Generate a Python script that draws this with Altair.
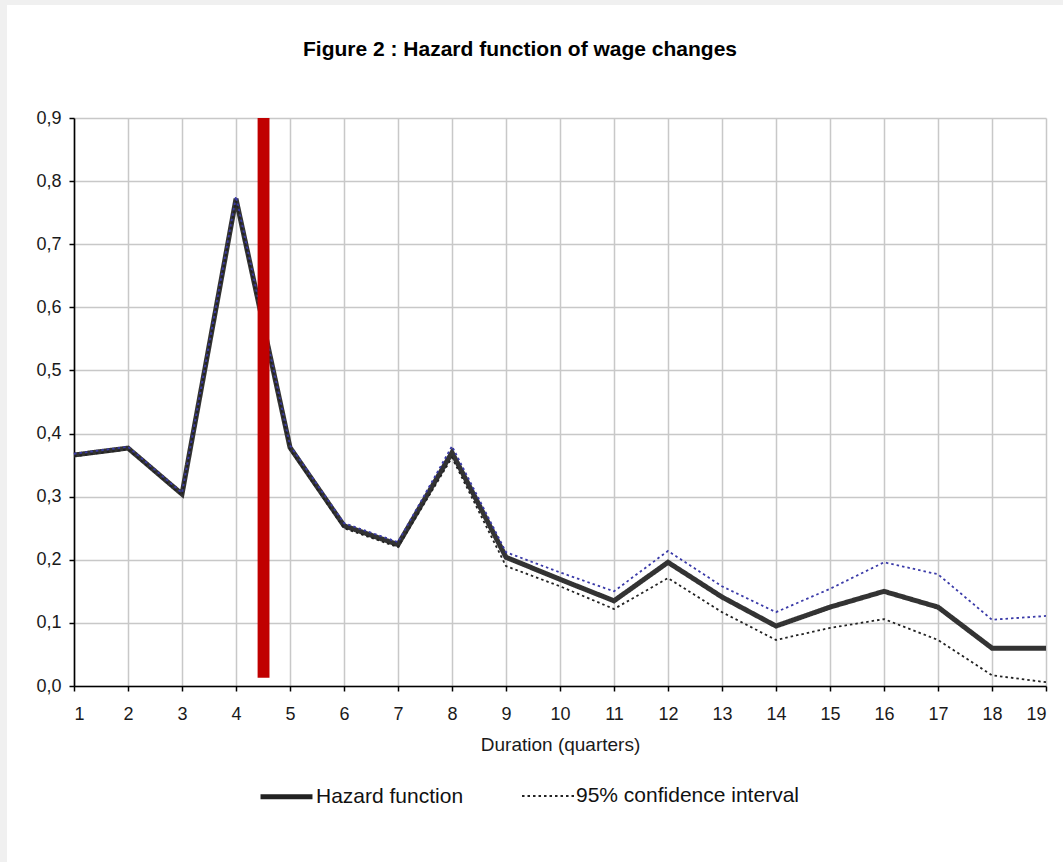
import altair as alt
import pandas as pd

# Hazard of a wage change by spell duration, with its 95% confidence band
durations = list(range(1, 20))
hazard = [0.366, 0.377, 0.304, 0.772, 0.378, 0.254, 0.224, 0.370, 0.204, 0.169,
          0.135, 0.196, 0.141, 0.095, 0.125, 0.150, 0.125, 0.060, 0.060]
upper_ci = [0.368, 0.379, 0.306, 0.776, 0.381, 0.258, 0.228, 0.380, 0.212, 0.180,
            0.150, 0.214, 0.158, 0.117, 0.154, 0.196, 0.177, 0.105, 0.111]
lower_ci = [0.364, 0.375, 0.302, 0.768, 0.375, 0.250, 0.220, 0.362, 0.190, 0.158,
            0.122, 0.171, 0.117, 0.073, 0.092, 0.106, 0.073, 0.017, 0.006]

# Marker band between quarters 4 and 5
marker_x = [4.40, 4.62]
marker_y = [0.013, 0.9]

TITLE = "Figure 2 : Hazard function of wage changes"
HAZ = "Hazard function"
CI = "95% confidence interval"

rows = []
for d, h, u, l in zip(durations, hazard, upper_ci, lower_ci):
    rows.append({"duration": d, "value": h, "series": "hazard", "kind": HAZ})
    rows.append({"duration": d, "value": u, "series": "upper", "kind": CI})
    rows.append({"duration": d, "value": l, "series": "lower", "kind": CI})
df = pd.DataFrame(rows)

marker = pd.DataFrame({"x": [marker_x[0]], "x2": [marker_x[1]],
                       "y": [marker_y[0]], "y2": [marker_y[1]]})

W, H = 972, 568
PAD = {"left": 74, "right": 17, "top": 118, "bottom": 176}

FONT = "Liberation Sans, Arial, sans-serif"

x_enc = alt.X(
    "duration:Q",
    scale=alt.Scale(domain=[1, 19], nice=False, zero=False),
    axis=alt.Axis(values=durations, format="d", title="Duration (quarters)"),
)
y_enc = alt.Y(
    "value:Q",
    scale=alt.Scale(domain=[0, 0.9], nice=False),
    axis=alt.Axis(values=[i / 10 for i in range(10)],
                  labelExpr="replace(format(datum.value, '.1f'), '.', ',')",
                  title=None),
)

legend = alt.Legend(title=None, orient="none", direction="horizontal",
                    legendX=184, legendY=650)
dash = alt.StrokeDash(
    "kind:N",
    scale=alt.Scale(domain=[HAZ, CI], range=[[1, 0], [2.5, 3]]),
    legend=legend,
)
width_enc = alt.StrokeWidth(
    "kind:N",
    scale=alt.Scale(domain=[HAZ, CI], range=[5, 1.8]),
    legend=legend,
)
color_enc = alt.Color(
    "series:N",
    scale=alt.Scale(domain=["hazard", "upper", "lower"],
                    range=["#333333", "#3a3aa8", "#222222"]),
    legend=None,
)

# Light grey page edge along the left and top
edge = alt.Data(values=[{"a": 1}])
left_edge = alt.Chart(edge).mark_rect(color="#f0f0f0").encode(
    x=alt.value(-PAD["left"]), x2=alt.value(7 - PAD["left"]),
    y=alt.value(-PAD["top"]), y2=alt.value(H + PAD["bottom"]),
)
top_edge = alt.Chart(edge).mark_rect(color="#f0f0f0").encode(
    x=alt.value(-PAD["left"]), x2=alt.value(W + PAD["right"]),
    y=alt.value(-PAD["top"]), y2=alt.value(5 - PAD["top"]),
)

heading = alt.Chart(alt.Data(values=[{"t": TITLE}])).mark_text(
    font=FONT, fontSize=21, fontWeight="bold", color="#000000",
    align="center", baseline="middle",
).encode(x=alt.value(446), y=alt.value(-68), text="t:N")

hazard_line = alt.Chart(df).transform_filter(
    alt.datum.series == "hazard"
).mark_line(strokeCap="butt", strokeJoin="miter").encode(
    x=x_enc, y=y_enc, color=color_enc, strokeDash=dash, strokeWidth=width_enc,
    detail="series:N",
)

ci_lines = alt.Chart(df).transform_filter(
    alt.datum.series != "hazard"
).mark_line().encode(
    x=x_enc, y=y_enc, color=color_enc, strokeDash=dash, strokeWidth=width_enc,
    detail="series:N",
)

bar = alt.Chart(marker).mark_rect(color="#c00000").encode(
    x="x:Q", x2="x2:Q", y="y:Q", y2="y2:Q",
)

chart = alt.layer(left_edge, top_edge, heading, hazard_line, ci_lines, bar).properties(
    width=W, height=H,
    autosize=alt.AutoSizeParams(type="none"),
    padding=PAD,
    background="white",
).configure_view(
    strokeWidth=0,
).configure_axis(
    gridColor="#c8c8c8", gridWidth=1.5,
    domainColor="#000000", domainWidth=1.6,
    tickColor="#000000", tickWidth=1.5, tickSize=5,
    labelFont=FONT, labelFontSize=18, labelColor="#1a1a1a",
    titleFont=FONT, titleFontSize=19, titleFontWeight="normal", titleColor="#1a1a1a",
).configure_axisX(
    labelPadding=14, titlePadding=12,
).configure_axisY(
    labelPadding=8,
).configure_legend(
    labelFont=FONT, labelFontSize=21, labelColor="#111111", labelLimit=400,
    symbolType="stroke", symbolSize=2700, symbolStrokeColor="#222222",
    columnPadding=54, labelOffset=1,
)

chart.save("out.html", embed_options={"renderer": "svg", "actions": False})
